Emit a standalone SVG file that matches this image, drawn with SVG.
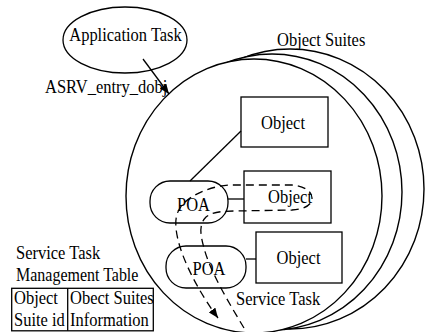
<svg xmlns="http://www.w3.org/2000/svg" width="426" height="332" viewBox="0 0 426 332">
<style>
.t{font-family:"Liberation Serif","Times New Roman",serif;font-size:16.5px;fill:#000}
.m{text-anchor:middle}
.s{fill:none;stroke:#000;stroke-width:1.3}
.w{fill:#fff;stroke:#000;stroke-width:1.4}
.d{fill:none;stroke:#000;stroke-width:1.3;stroke-dasharray:8 5}
</style>
<defs>
<marker id="ah" markerUnits="userSpaceOnUse" markerWidth="11" markerHeight="8" refX="10" refY="4" orient="auto"><path d="M0,0 L10,4 L0,8 z" fill="#000"/></marker>
</defs>
<rect width="426" height="332" fill="#fff"/>
<g id="object-suites">
<ellipse class="w" cx="290" cy="189" rx="134" ry="140"/>
<ellipse class="w" cx="272" cy="192" rx="130" ry="138"/>
<ellipse class="w" cx="254" cy="196" rx="128" ry="137"/>
<text class="t" transform="matrix(1 0 0 1.12 277 46)">Object Suites</text>
</g>
<g id="app-task">
<ellipse class="s" cx="125" cy="40" rx="62" ry="33"/>
<text class="t m" transform="matrix(1 0 0 1.12 125.5 41)">Application Task</text>
</g>
<g id="object1">
<rect class="s" x="241" y="97" width="87" height="50"/>
<text class="t m" transform="matrix(1 0 0 1.12 283 129)">Object</text>
</g>
<g id="object2">
<rect class="s" x="244" y="171" width="87" height="52"/>
<text class="t m" transform="matrix(1 0 0 1.12 290 203)">Object</text>
</g>
<g id="object3">
<rect class="s" x="256" y="232" width="86" height="51"/>
<text class="t m" transform="matrix(1 0 0 1.12 298.5 264)">Object</text>
</g>
<g id="poa1">
<rect class="s" x="150" y="181" width="78" height="42" rx="20" ry="20"/>
<text class="t m" transform="matrix(1 0 0 1.12 193.5 211)">POA</text>
</g>
<g id="poa2">
<rect class="s" x="166" y="246" width="80" height="42" rx="20" ry="20"/>
<text class="t m" transform="matrix(1 0 0 1.12 209 275)">POA</text>
</g>
<g id="service-task">
<text class="t" transform="matrix(1 0 0 1.12 236 305)">Service Task</text>
</g>
<g id="management-table">
<text class="t" transform="matrix(1 0 0 1.12 16 259)">Service Task</text>
<text class="t" style="font-size:16px" transform="matrix(1 0 0 1.12 16 281)">Management Table</text>
<rect class="s" x="11.7" y="288.3" width="141.6" height="42.5"/>
<line class="s" x1="67.7" y1="288.3" x2="67.7" y2="330.8"/>
<text class="t" transform="matrix(1 0 0 1.12 14 304)">Object</text>
<text class="t" transform="matrix(1 0 0 1.12 14 326)">Suite id</text>
<text class="t" transform="matrix(1 0 0 1.12 70 304)">Obect Suites</text>
<text class="t" transform="matrix(1 0 0 1.12 70 326)">Information</text>
</g>
<g id="connectors">
<line class="s" x1="143" y1="59" x2="169" y2="94" marker-end="url(#ah)"/>
<line class="s" x1="241" y1="131" x2="190" y2="181"/>
<line class="s" x1="228" y1="199" x2="244" y2="199"/>
<line class="s" x1="246" y1="259" x2="256" y2="259"/>
<path class="d" d="M244,328 C232,308 210,272 204,248 C200,234 199,224 206,217 C212,212 222,211 236,211 L292,210 C305,209 312,205 312,198 C312,190 302,186 292,185 L232,185 C214,185 192,194 183,204 C177,211 175,218 176,228 C178,252 196,288 218,318" marker-end="url(#ah)"/>
</g>
<g id="label-asrv">
<text class="t" transform="matrix(1 0 0 1.12 45 93)">ASRV_entry_dobj</text>
</g>
</svg>
